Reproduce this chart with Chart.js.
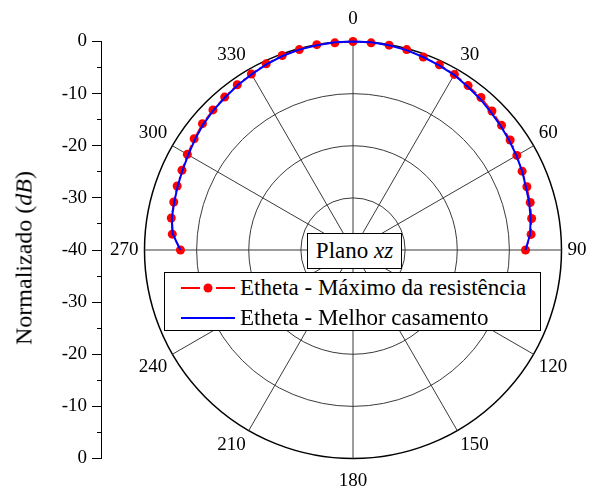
<!DOCTYPE html>
<html>
<head>
<meta charset="utf-8">
<script src="https://cdn.jsdelivr.net/npm/chart.js@4.4.1/dist/chart.umd.min.js"></script>
<style>
body { margin: 0; background: #fff; }
#contenedor { position: relative; width: 592px; height: 492px; font-family: 'Liberation Serif', 'Times New Roman', serif; color: #000; }
canvas { position: absolute; left: 0; top: 0; }
.titulo { position: absolute; left: 24px; top: 258px; transform: translate(-50%, -50%) rotate(-90deg); font-size: 24px; white-space: nowrap; }
.plano { position: absolute; left: 307px; top: 233px; width: 93px; height: 34px; border: 1px solid #000; background: #fff; font-size: 23px; text-align: center; line-height: 34px; }
.leyenda { position: absolute; left: 164px; top: 272px; width: 375px; height: 57px; border: 1px solid #000; background: #fff; font-size: 23px; }
.fila { position: absolute; left: 0; width: 375px; height: 30px; line-height: 30px; white-space: nowrap; }
.fila svg { position: absolute; left: 16px; top: 9px; }
.fila span { position: absolute; left: 75px; }
</style>
</head>
<body>
<div id="contenedor">
    <canvas id="graficaEje" width="110" height="492"></canvas>
    <canvas id="graficaPolar" width="592" height="492"></canvas>
    <div class="titulo">Normalizado (<i>dB</i>)</div>
    <div class="plano">Plano <i>xz</i></div>
    <div class="leyenda">
        <div class="fila" style="top:0px">
            <svg width="54" height="12"><line x1="0" y1="6" x2="19" y2="6" stroke="#ff0000" stroke-width="2"/><circle cx="27" cy="6" r="4.5" fill="#ff0000"/><line x1="35" y1="6" x2="54" y2="6" stroke="#ff0000" stroke-width="2"/></svg>
            <span id="serie1"></span>
        </div>
        <div class="fila" style="top:30px">
            <svg width="54" height="12"><line x1="0" y1="6" x2="54" y2="6" stroke="#0000ff" stroke-width="2"/></svg>
            <span id="serie2"></span>
        </div>
    </div>
</div>
<script>
const fuente = "'Liberation Serif', 'Times New Roman', serif";

const nombreSerie1 = 'Etheta - Máximo da resistência';
const nombreSerie2 = 'Etheta - Melhor casamento';

// rotulos del eje angular (cada 5 grados)
const rotulosAngulo = [0, 5, 10, 15, 20, 25, 30, 35, 40, 45, 50, 55, 60, 65, 70, 75, 80, 85,
    90, 95, 100, 105, 110, 115, 120, 125, 130, 135, 140, 145, 150, 155, 160, 165, 170, 175,
    180, 185, 190, 195, 200, 205, 210, 215, 220, 225, 230, 235, 240, 245, 250, 255, 260, 265,
    270, 275, 280, 285, 290, 295, 300, 305, 310, 315, 320, 325, 330, 335, 340, 345, 350, 355];

// angulos medidos (semicirculo superior)
const angulosMedidos = [270, 275, 280, 285, 290, 295, 300, 305, 310, 315, 320, 325, 330, 335, 340, 345, 350, 355,
    0, 5, 10, 15, 20, 25, 30, 35, 40, 45, 50, 55, 60, 65, 70, 75, 80, 85, 90];

const maximoResistencia = [-6.9, -5.2, -4.6, -4.4, -4.1, -3.8, -3.3, -2.8, -2.3, -2.0, -1.7, -1.3, -1.0, -0.6, -0.3, -0.2, 0, -0.1,
    0, -0.1, -0.1, -0.2, -0.6, -0.8, -1.1, -1.5, -1.8, -2.3, -2.8, -3.2, -3.7, -4.2, -4.5, -4.8, -5.2, -5.7, -6.9];

const melhorCasamento = [-6.9, -5.3, -4.7, -4.5, -4.2, -3.9, -3.5, -3.0, -2.5, -2.1, -1.8, -1.4, -1.1, -0.7, -0.4, -0.2, -0.1, 0,
    0, 0, -0.1, -0.3, -0.6, -0.9, -1.2, -1.7, -2.1, -2.6, -3.0, -3.4, -3.8, -4.2, -4.7, -5.0, -5.4, -5.9, -6.9];

// rotulos del eje izquierdo, de abajo hacia arriba
const rotulosEje = ['0', '-10', '-20', '-30', '-40', '-30', '-20', '-10', '0'];

let graficaPolar;
let graficaEje;

function serieCompleta(valores) {
    return rotulosAngulo.map(a => {
        const i = angulosMedidos.indexOf(a);
        return i < 0 ? null : valores[i];
    });
}

function crearGraficaPolar() {
    const ctx = document.getElementById('graficaPolar');
    const config = {
        type: 'radar',
        data: {
            labels: rotulosAngulo,
            datasets: [{
                label: nombreSerie2,
                data: serieCompleta(melhorCasamento),
                borderColor: '#0000ff',
                borderWidth: 2,
                pointRadius: 0,
                fill: false
            }, {
                label: nombreSerie1,
                data: serieCompleta(maximoResistencia),
                borderColor: '#ff0000',
                borderWidth: 1.5,
                borderDash: [10, 4, 2, 4],
                pointRadius: 4.5,
                pointBackgroundColor: '#ff0000',
                pointBorderWidth: 0,
                fill: false
            }]
        },
        options: {
            responsive: false,
            animation: false,
            spanGaps: false,
            layout: { padding: { left: 105, right: -3, top: 8, bottom: 0 } },
            plugins: {
                legend: { display: false },
                tooltip: { enabled: false }
            },
            scales: {
                r: {
                    min: -40,
                    max: 0,
                    ticks: { display: false, stepSize: 10 },
                    grid: {
                        circular: true,
                        color: c => c.tick && c.tick.value === 0 ? '#000' : '#3a3a3a',
                        lineWidth: c => c.tick && c.tick.value === 0 ? 1.5 : 1
                    },
                    angleLines: {
                        color: c => c.index % 6 === 0 ? '#3a3a3a' : 'rgba(0,0,0,0)',
                        lineWidth: 1
                    },
                    pointLabels: {
                        callback: (l, i) => i % 6 === 0 ? String(l) : '',
                        padding: c => (c.index === 0 || c.index === 36) ? 13 : (c.index % 6 === 0 ? 6 : 0),
                        font: { family: fuente, size: 19, lineHeight: 1 },
                        color: '#000'
                    }
                }
            }
        }
    };
    graficaPolar = new Chart(ctx, config);
}

function crearGraficaEje() {
    const r = graficaPolar.scales.r;
    const ctx = document.getElementById('graficaEje');
    const config = {
        type: 'line',
        data: { labels: [], datasets: [] },
        options: {
            responsive: false,
            animation: false,
            layout: { padding: { top: r.yCenter - r.drawingArea, bottom: ctx.height - (r.yCenter + r.drawingArea), left: 0, right: 0 } },
            plugins: {
                legend: { display: false },
                tooltip: { enabled: false }
            },
            scales: {
                x: { display: false },
                y: {
                    position: 'left',
                    min: -40,
                    max: 40,
                    afterFit: s => { s.width = 101; },
                    ticks: {
                        stepSize: 5,
                        autoSkip: false,
                        padding: 5,
                        color: '#000',
                        font: { family: fuente, size: 19 },
                        callback: (v, i) => i % 2 === 0 ? rotulosEje[i / 2] : ''
                    },
                    grid: {
                        drawOnChartArea: false,
                        tickLength: 9,
                        tickColor: '#000',
                        tickWidth: 1,
                        tickBorderDash: c => c.index % 2 === 0 ? [] : [0, 5, 4, 20]
                    },
                    border: { color: '#000', width: 1 }
                }
            }
        }
    };
    graficaEje = new Chart(ctx, config);
}

document.getElementById('serie1').textContent = nombreSerie1;
document.getElementById('serie2').textContent = nombreSerie2;
crearGraficaPolar();
crearGraficaEje();
</script>
</body>
</html>
